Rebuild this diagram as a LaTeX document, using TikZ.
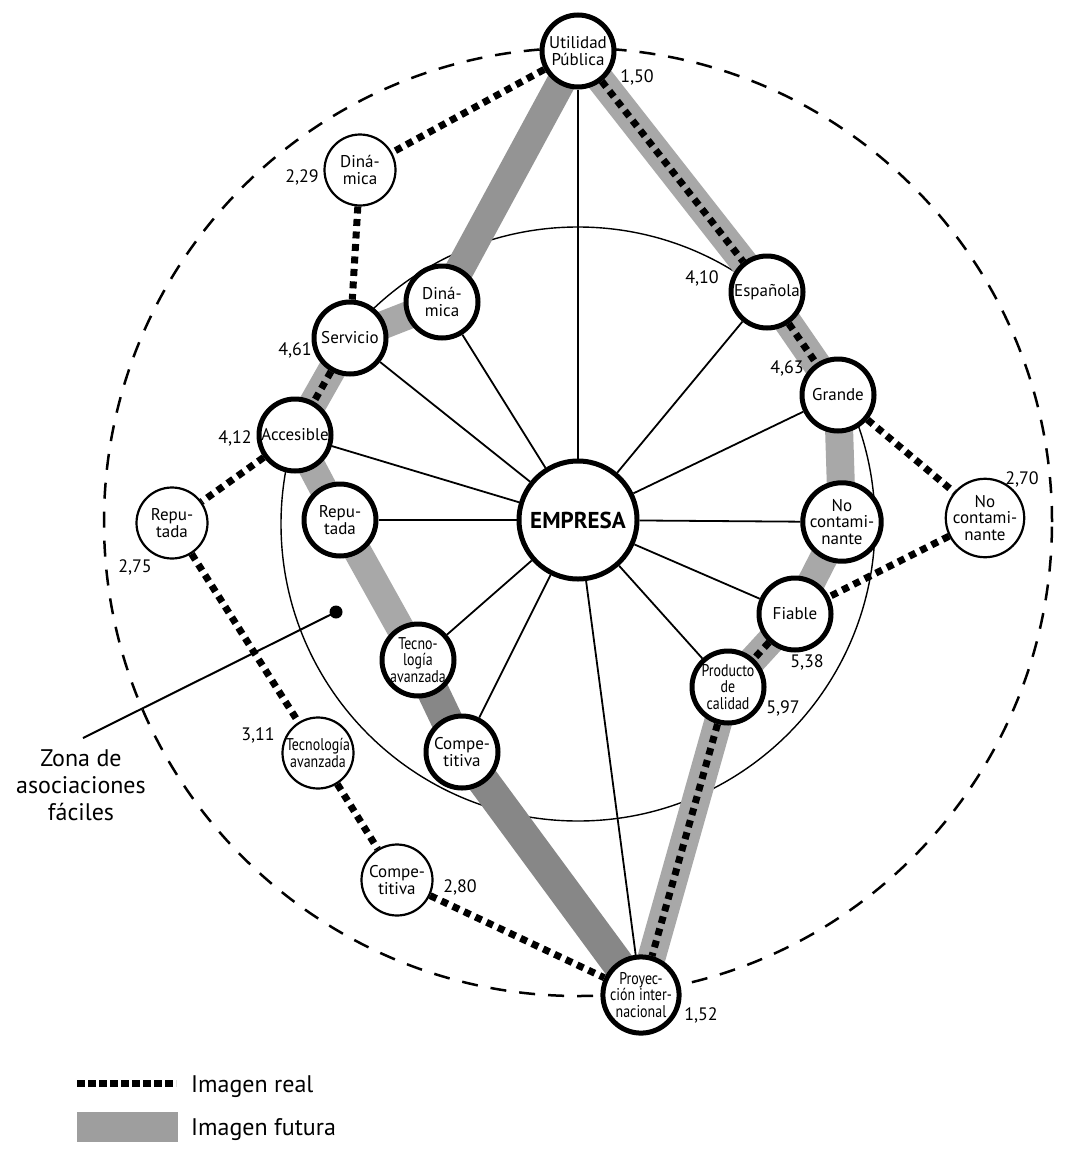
\documentclass[tikz,border=0pt]{standalone}
\usepackage{fontspec}
\setmainfont{PT Sans}
\newfontfamily\condfont[FakeStretch=0.82]{PT Sans}
\pgfdeclarelayer{bg}
\pgfdeclarelayer{mid}
\pgfsetlayers{bg,mid,main}
\begin{document}
\begin{tikzpicture}[x=1pt,y=-1pt,
  nodetxt/.style={font=\fontsize{17}{16.5}\selectfont},
  condtxt/.style={font=\condfont\fontsize{17}{16.5}\selectfont},
  innernode/.style={circle, draw, line width=5pt, fill=white, minimum size=72pt, inner sep=0pt, align=center, nodetxt},
  outernode/.style={circle, draw, line width=2.2pt, fill=white, minimum size=71pt, inner sep=0pt, align=center, nodetxt},
  num/.style={font=\fontsize{18}{18}\selectfont, inner sep=0pt},
  futura/.style={line width=28pt, draw=black!34, line join=round},
  futuramid/.style={line width=29pt, draw=black!42, line join=round},
  futuradark/.style={line width=32pt, draw=black!47, line join=round},
  real/.style={line width=7pt, dash pattern=on 7pt off 5.5pt},
  spoke/.style={line width=1.8pt},
]
\useasboundingbox (0,0) rectangle (1087,1167);

% nodes
\node[circle, draw, line width=5pt, fill=white, minimum size=118pt, inner sep=0pt, font=\bfseries\fontsize{23}{23}\selectfont] (emp) at (578,520) {EMPRESA};
\node[innernode] (util) at (578,51) {Utilidad\\Pública};
\node[outernode] (dinO) at (360,170) {Diná-\\mica};
\node[innernode] (dinI) at (442,302) {Diná-\\mica};
\node[innernode] (serv) at (350,338) {Servicio};
\node[innernode] (acc) at (295,435) {Accesible};
\node[outernode] (repO) at (172,523) {Repu-\\tada};
\node[innernode] (repI) at (340,520) {Repu-\\tada};
\node[innernode, condtxt] (tecI) at (418,660) {Tecno-\\logía\\avanzada};
\node[innernode] (comI) at (462,752) {Compe-\\titiva};
\node[outernode, condtxt] (tecO) at (318,753) {Tecnología\\avanzada};
\node[outernode] (comO) at (397,880) {Compe-\\titiva};
\node[innernode, condtxt] (proy) at (641,995) {Proyec-\\ción inter-\\nacional};
\node[innernode, condtxt] (prod) at (728,687) {Producto\\de\\calidad};
\node[innernode] (fiab) at (795,614) {Fiable};
\node[innernode] (ncI) at (842,522) {No\\contami-\\nante};
\node[outernode] (ncO) at (985,518) {No\\contami-\\nante};
\node[innernode] (gran) at (838,395) {Grande};
\node[innernode] (esp) at (767,292) {Española};

% values
\node[num] (v150) at (637,77) {1,50};
\node[num] (v229) at (302,177) {2,29};
\node[num] (v461) at (295,350) {4,61};
\node[num] (v412) at (235,438) {4,12};
\node[num] (v275) at (135,567) {2,75};
\node[num] (v410) at (702,278) {4,10};
\node[num] (v463) at (787,368) {4,63};
\node[num] (v270) at (1022,479) {2,70};
\node[num] (v538) at (807,662) {5,38};
\node[num] (v597) at (783,708) {5,97};
\node[num] (v311) at (258,735) {3,11};
\node[num] (v280) at (460,887) {2,80};
\node[num] (v152) at (701,1015) {1,52};

% zone marker
\node[circle, fill, inner sep=0pt, minimum size=13pt] (dot) at (336,612) {};
\node[font=\fontsize{24}{27}\selectfont, align=center, inner sep=0pt] (zona) at (81,785) {Zona de\\asociaciones\\fáciles};
\coordinate (ztip) at (83,738);
\draw[line width=2pt] (dot.center) -- (ztip);

\begin{pgfonlayer}{bg}
  \fill[white] (0,0) rectangle (1087,1167);
  \draw[line width=2.5pt, dash pattern=on 16pt off 13pt] (578,522) circle[radius=474pt];
  \draw[line width=1.4pt] (578,524) circle[radius=297pt];
  \draw[futura] (dinI.center) -- (serv.center) -- (acc.center) -- (repI.center) -- (tecI.center) -- (comI.center);
  \draw[futuramid] (util.center) -- (dinI.center);
  \draw[futuradark] (tecI.center) -- (comI.center) -- (proy.center);
  \draw[futura] (util.center) -- (esp.center) -- (gran.center) -- (ncI.center) -- (fiab.center) -- (prod.center) -- (proy.center);
\end{pgfonlayer}

\begin{pgfonlayer}{mid}
  \foreach \t in {util,dinI,serv,acc,repI,tecI,comI,proy,prod,fiab,ncI,gran,esp}
    \draw[spoke] (emp) -- (\t);
  \draw[real] (util) -- (dinO);
  \draw[real] (dinO) -- (serv);
  \draw[real] (serv) -- (acc);
  \draw[real] (acc) -- (repO);
  \draw[real] (repO) -- (tecO);
  \draw[real] (tecO) -- (comO);
  \draw[real] (comO) -- (proy);
  \draw[real] (util) -- (esp);
  \draw[real] (esp) -- (gran);
  \draw[real] (gran) -- (ncO);
  \draw[real] (ncO) -- (fiab);
  \draw[real] (fiab) -- (prod);
  \draw[real] (prod) -- (proy);
\end{pgfonlayer}

% legend
\coordinate (lra) at (77,1083);
\coordinate (lrb) at (176,1083);
\draw[line width=7pt, dash pattern=on 8pt off 3pt] (lra) -- (lrb);
\fill[black!38] (77,1112) rectangle (178,1142);
\node[anchor=west, font=\fontsize{24}{24}\selectfont, inner sep=0pt] (lreal) at (191,1087) {Imagen real};
\node[anchor=west, font=\fontsize{24}{24}\selectfont, inner sep=0pt] (lfut) at (191,1130) {Imagen futura};
\end{tikzpicture}
\end{document}
